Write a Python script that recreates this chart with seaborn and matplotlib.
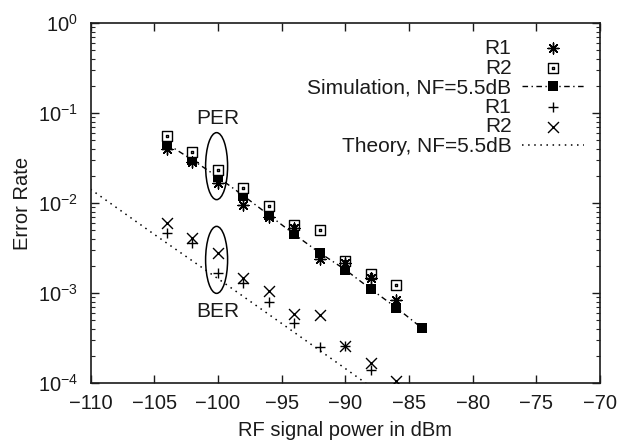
import numpy as np
import matplotlib
matplotlib.use("Agg")
import matplotlib.pyplot as plt
from matplotlib.path import Path
from matplotlib.patches import Ellipse
import seaborn as sns

# ---------------- data ----------------
x_per = [-104, -102, -100, -98, -96, -94, -92, -90, -88, -86]
per_r1 = [0.040, 0.029, 0.0166, 0.0096, 0.0070, 0.0053, 0.0024, 0.00215, 0.00147, 0.00084]
per_r2 = [0.056, 0.0369, 0.0234, 0.0147, 0.0093, 0.0057, 0.0050, 0.00229, 0.00164, 0.00124]

x_sim = [-104, -102, -100, -98, -96, -94, -92, -90, -88, -86, -84]
per_sim = [0.0456, 0.0303, 0.0195, 0.0121, 0.0074, 0.0045, 0.0028, 0.00182, 0.00111, 0.00069, 0.00041]

x_ber_r1 = [-104, -102, -100, -98, -96, -94, -92, -90, -88]
ber_r1 = [0.0047, 0.0036, 0.00167, 0.00129, 0.00079, 0.00046, 0.00025, 0.000255, 0.000138]
x_ber_r2 = [-104, -102, -100, -98, -96, -94, -92, -90, -88, -86]
ber_r2 = [0.0060, 0.0041, 0.0028, 0.00147, 0.00105, 0.00059, 0.00057, 0.000255, 0.000169, 0.000105]

x_theory = [-110, -105, -100, -95, -90, -88]
ber_theory = [1.43e-2, 4.5e-3, 1.45e-3, 4.6e-4, 1.45e-4, 9.1e-5]

x_ticks = [-110, -105, -100, -95, -90, -85, -80, -75, -70]
y_ticks = [1e-4, 1e-3, 1e-2, 1e-1, 1e0]

labels = ["R1", "R2", "Simulation, NF=5.5dB", "R1", "R2", "Theory, NF=5.5dB"]
group_text = ["PER", "BER"]
group_pos = [(-100, 0.088), (-100, 6.25e-4)]
ellipse_pos = [(-100.1, 0.0258), (-100.1, 0.00234)]

# ---------------- style ----------------
sns.set_theme(style="ticks")
plt.rcParams["font.family"] = ["Liberation Sans", "DejaVu Sans"]
plt.rcParams["mathtext.fontset"] = "custom"
plt.rcParams["mathtext.rm"] = "Liberation Sans"
plt.rcParams["mathtext.it"] = "Liberation Sans:italic"
plt.rcParams["mathtext.bf"] = "Liberation Sans:bold"
FS = 15
TFS = 14.5
INK = "#1a1a1a"

fig = plt.figure(figsize=(6.17, 4.43), dpi=100)
ax = fig.add_axes([90.5 / 617, 1 - 383 / 443, 509.5 / 617, 359.7 / 443])

# custom open square with centre dot
sq = [(-1, -1), (1, -1), (1, 1), (-1, 1), (-1, -1)]
d = 0.14
dot = [(-d, -d), (d, -d), (d, d), (-d, d), (-d, -d)]
box_dot = Path(sq + dot,
               [Path.MOVETO, Path.LINETO, Path.LINETO, Path.LINETO, Path.CLOSEPOLY] * 2)

# Simulation PER (dash-dot line with filled squares)
sns.lineplot(x=x_sim, y=per_sim, ax=ax, color="black", marker="s", markersize=7.6,
             markeredgewidth=0, linewidth=1.0, linestyle=(0, (4, 2.5, 1, 2.5)),
             label=labels[2], zorder=3)
# R2 PER open squares with dot
sns.scatterplot(x=x_per, y=per_r2, ax=ax, marker=box_dot, s=58, facecolor="white",
                edgecolor="black", linewidth=1.0, label=labels[1], zorder=4)
# R1 PER asterisks
sns.scatterplot(x=x_per, y=per_r1, ax=ax, marker=(8, 2, 0), s=62, color="black",
                linewidth=1.0, label=labels[0], zorder=5)
# BER R1 plus
sns.scatterplot(x=x_ber_r1, y=ber_r1, ax=ax, marker="+", s=58, color="black",
                linewidth=1.0, label=labels[3], zorder=5)
# BER R2 cross
sns.scatterplot(x=x_ber_r2, y=ber_r2, ax=ax, marker="x", s=62, color="black",
                linewidth=1.0, label=labels[4], zorder=5)
# Theory BER dotted line
sns.lineplot(x=x_theory, y=ber_theory, ax=ax, color="black", linewidth=1.1,
             linestyle=(0, (1, 3)), label=labels[5], zorder=2)

ax.set_yscale("log")
ax.set_xlim(-110, -70)
ax.set_ylim(1e-4, 1e0)
ax.set_xticks(x_ticks)
ax.set_yticks(y_ticks)
ax.tick_params(axis="both", which="major", direction="in", length=6, width=1.0,
               top=True, right=True, labelsize=TFS, colors=INK)
ax.tick_params(axis="y", which="minor", direction="in", length=3, width=0.8,
               left=True, right=True)
ax.tick_params(axis="x", which="minor", bottom=False, top=False)
ax.tick_params(axis="x", which="major", pad=8)
ax.tick_params(axis="y", which="major", pad=9)
for s in ax.spines.values():
    s.set_linewidth(1.2)
    s.set_color(INK)
ax.grid(False)

ax.set_xlabel("RF signal power in dBm", fontsize=TFS, color=INK, labelpad=6)
ax.set_ylabel("Error Rate", fontsize=TFS, color=INK, labelpad=4)

# group annotations
for t, (gx, gy) in zip(group_text, group_pos):
    ax.text(gx, gy, t, fontsize=FS, color=INK, ha="center", va="center")
fig.canvas.draw()
for (ex, ey) in ellipse_pos:
    cx, cy = ax.transAxes.inverted().transform(ax.transData.transform((ex, ey)))
    ax.add_patch(Ellipse((cx, cy), 22 / 509.5, 67 / 359.7, transform=ax.transAxes,
                         fill=False, edgecolor="black", linewidth=1.1, zorder=2))

# legend in the reference's order
h, l = ax.get_legend_handles_labels()
lookup = {}
for hh, ll in zip(h, l):
    lookup.setdefault(ll, []).append(hh)
order = [lookup["R1"][0], lookup["R2"][0], lookup[labels[2]][0],
         lookup["R1"][1], lookup["R2"][1], lookup[labels[5]][0]]
leg = ax.legend(order, labels, loc="upper right", frameon=False, markerfirst=False,
                fontsize=FS, handlelength=3.0, handletextpad=0.5, labelspacing=0.03,
                borderaxespad=0.4, borderpad=0.35)
for t in leg.get_texts():
    t.set_ha("right")
    t.set_color(INK)

fig.savefig("out.png", dpi=100)
